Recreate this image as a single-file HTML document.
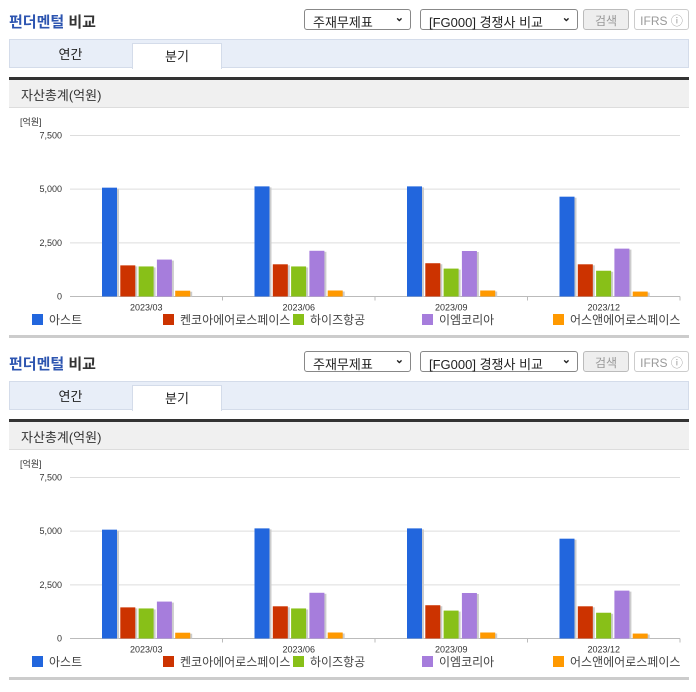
<!DOCTYPE html>
<html><head><meta charset="utf-8">
<style>
body{margin:0;width:696px;height:684px;background:#fff;font-family:"Liberation Sans","Noto Sans CJK KR",sans-serif;position:relative;overflow:hidden}
.abs{position:absolute}
.title{font-size:15px;font-weight:bold;color:#333;left:9px}
.title span{color:#2d55b0}
.sel{border:1px solid #888;border-radius:3px;height:21px;font-size:13px;color:#222;box-sizing:border-box;padding:2px 0 0 8px;background:#fff}
.sel i{position:absolute;right:6px;top:1px;font-style:normal;font-size:11px;font-weight:bold}
.btn{border:1px solid #ccc;border-radius:3px;height:21px;box-sizing:border-box;font-size:12px;color:#999;text-align:center;padding-top:2px}
.tabs{left:9px;width:680px;height:29px;background:#e8eef8;border:1px solid #d4dcea;box-sizing:border-box}
.tab{top:0;height:29px;font-size:13px;text-align:center;color:#222}
.hdr{left:9px;width:680px;height:31px;background:#f0f0f0;border-top:3px solid #333;border-bottom:1px solid #ddd;box-sizing:border-box;font-size:13px;color:#333;padding:5px 0 0 12px}
</style></head><body>
<div id="root"></div>
<script>
const categories=["2023/03","2023/06","2023/09","2023/12"];
const seriesNames=["아스트","켄코아에어로스페이스","하이즈항공","이엠코리아","어스앤에어로스페이스"];
const seriesColors=["#2266dd","#cc3300","#88c018","#a67ddc","#ff9900"];
const s0=[5070,5130,5130,4650];
const s1=[1450,1500,1550,1500];
const s2=[1400,1400,1300,1200];
const s3=[1720,2130,2120,2230];
const s4=[270,280,280,230];
const seriesValues=[s0,s1,s2,s3,s4];
const yTicks=[0,2500,5000,7500];
const yTickLabels=["0","2,500","5,000","7,500"];
const legendX=[32,163,293,422,553];

const NS="http://www.w3.org/2000/svg";
const root=document.getElementById('root');
function mk(tag,cls,st,txt){const e=document.createElement(tag);if(cls)e.className=cls;if(st)e.style.cssText=st;if(txt!=null)e.textContent=txt;root.appendChild(e);return e;}
function sv(tag,attrs,parent){const e=document.createElementNS(NS,tag);for(const k in attrs)e.setAttribute(k,attrs[k]);parent.appendChild(e);return e;}

function panel(o,idx){
  let e;
  e=mk('div','abs title','top:'+(11+o)+'px');e.innerHTML='<span>펀더멘털</span> 비교';
  
  e=mk('div','abs sel','left:304px;top:'+(9+o)+'px;width:107px');e.innerHTML='주재무제표<i>⌄</i>';
  
  e=mk('div','abs sel','left:420px;top:'+(9+o)+'px;width:158px');e.innerHTML='[FG000] 경쟁사 비교<i>⌄</i>';
  
  e=mk('div','abs btn','left:583px;top:'+(9+o)+'px;width:46px;background:#eee;border-color:#bbb','검색');
  
  e=mk('div','abs btn','left:634px;top:'+(9+o)+'px;width:55px','IFRS ⓘ');
  
  e=mk('div','abs tabs','top:'+(39+o)+'px');
  
  e=mk('div','abs tab','left:9px;top:'+(39+o)+'px;width:123px;line-height:32px','연간');
  
  e=mk('div','abs tab','left:132px;top:'+(43+o)+'px;height:26px;line-height:26px;width:90px;background:#fff;border:1px solid #d4dcea;border-bottom:none;box-sizing:border-box','분기');
  
  e=mk('div','abs hdr','top:'+(77+o)+'px','자산총계(억원)');
  
  e=mk('div','abs','left:9px;top:'+(335+o)+'px;width:680px;height:3px;background:#ccc');
  

  const svg=document.createElementNS(NS,'svg');
  svg.setAttribute('width',696);svg.setAttribute('height',240);
  svg.style.cssText='position:absolute;left:0;top:'+(110+o)+'px';
  
  root.appendChild(svg);
  const x0=70,x1=680,yb=186.5,yt=25.5,ymax=7500;
  const yS=v=>yb-(v/ymax)*(yb-yt);
  const gw=(x1-x0)/categories.length;
  let t=sv('text',{x:20,y:15,'font-size':9,fill:'#333'},svg);t.textContent='[억원]';
  yTicks.forEach((v,i)=>{
    const y=yS(v);
    if(v>0){const l=sv('line',{x1:x0,x2:x1,y1:y,y2:y,stroke:'#ddd'},svg);
      }
    const tx=sv('text',{x:62,y:y+3,'font-size':9,fill:'#333','text-anchor':'end'},svg);
    tx.textContent=yTickLabels[i];
    
  });
  sv('line',{x1:x0,x2:x1,y1:yb,y2:yb,stroke:'#bbb'},svg);
  categories.forEach((c,g)=>{
    sv('line',{x1:x0+gw*(g+1),x2:x0+gw*(g+1),y1:yb,y2:yb+4,stroke:'#bbb'},svg);
    const gx=x0+gw*g;
    seriesValues.forEach((arr,s)=>{
      const bx=gx+32+s*18.3, y=yS(arr[g]);
      sv('rect',{x:bx+2,y:y+1,width:15,height:yb-y-1,fill:'#ccc'},svg);
      const r=sv('rect',{x:bx,y:y,width:15,height:yb-y,fill:seriesColors[s]},svg);
      
    });
    const lb=sv('text',{x:gx+gw/2,y:yb+14,'font-size':9,fill:'#333','text-anchor':'middle'},svg);
    lb.textContent=c;
    
  });
  seriesNames.forEach((n,s)=>{
    const lx=legendX[s];
    const r=sv('rect',{x:lx,y:204,width:11,height:11,fill:seriesColors[s]},svg);
    
    const tx=sv('text',{x:lx+17,y:214,'font-size':12,fill:'#444'},svg);
    tx.textContent=n;
    
  });
}
panel(0,0);
panel(342,1);
</script>
</body></html>
